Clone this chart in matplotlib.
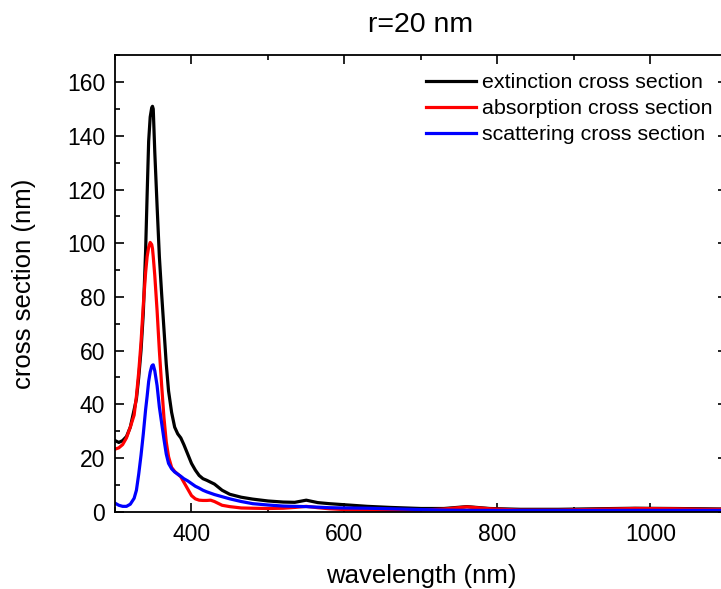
import matplotlib
matplotlib.use("Agg")
import matplotlib.pyplot as plt
from matplotlib.ticker import MultipleLocator

plt.rcParams['font.family'] = ['Liberation Sans', 'DejaVu Sans']

# wavelength grid (nm)
wavelength = [300, 305, 310, 315, 320, 325, 328, 331, 334, 337, 340, 342, 344,
              346, 348, 349, 350, 352, 355, 358, 361, 364, 367, 370, 374, 378,
              382, 386, 390, 395, 400, 405, 410, 415, 420, 425, 430, 440, 450,
              465, 480, 500, 520, 535, 550, 565, 580, 600, 630, 660, 700, 730,
              760, 790, 830, 880, 930, 980, 1030, 1070, 1100]

extinction = [26.5, 25.8, 26.5, 28, 31.5, 38, 42, 50, 60, 74, 97, 118, 138,
              147, 150.5, 151, 150, 134, 114, 95, 81, 68, 55, 45, 37, 31.5,
              29, 27.5, 25, 21.5, 18, 15.5, 13.5, 12.3, 11.7, 11, 10.3, 8, 6.5,
              5.4, 4.7, 4.0, 3.6, 3.5, 4.3, 3.4, 3.0, 2.6, 2.0, 1.6, 1.2, 1.2,
              1.9, 1.2, 0.9, 0.9, 1.1, 1.3, 1.2, 1.1, 1.0]

absorption = [23.3, 23.8, 25, 27.5, 31.5, 36, 43, 52, 63, 77, 89, 95, 98.5,
              100.3, 99.5, 98, 95, 88, 75, 60, 47, 35, 26, 20.5, 16.5, 15,
              14, 13, 11, 8.5, 6, 4.8, 4.3, 4.2, 4.2, 4.3, 3.8, 2.4, 1.9,
              1.4, 1.3, 1.2, 1.3, 1.6, 2.0, 1.5, 1.1, 0.8, 0.6, 0.5, 0.6, 1.0,
              1.8, 1.1, 0.6, 0.6, 0.9, 1.2, 1.1, 0.9, 0.9]

scattering = [3.2, 2.4, 2.0, 2.0, 2.8, 5, 8, 14, 21, 29, 38, 43, 48.5,
              52, 54.2, 54.6, 54.7, 52.5, 47, 39, 33, 27, 21.5, 18, 16, 14.8,
              14, 13.2, 12.3, 11.5, 10.5, 9.5, 8.8, 8, 7.4, 6.9, 6.4, 5.6, 4.8,
              3.8, 3.0, 2.5, 2.1, 2.0, 1.9, 1.7, 1.5, 1.4, 1.3, 1.1, 0.8, 0.6,
              0.5, 0.5, 0.5, 0.5, 0.5, 0.5, 0.5, 0.5, 0.5]

fig = plt.figure(figsize=(7.21, 5.89), dpi=100)
ax = fig.add_axes([0.1595, 0.1312, 0.8488, 0.7749])

lw = 2.3
ax.plot(wavelength, extinction, color='black', lw=lw, label='extinction cross section')
ax.plot(wavelength, absorption, color='red', lw=lw, label='absorption cross section')
ax.plot(wavelength, scattering, color='blue', lw=lw, label='scattering cross section')

ax.set_xlim(300, 1100)
ax.set_ylim(0, 170)
ax.xaxis.set_major_locator(MultipleLocator(200))
ax.xaxis.set_minor_locator(MultipleLocator(100))
ax.yaxis.set_major_locator(MultipleLocator(20))
ax.yaxis.set_minor_locator(MultipleLocator(10))
ax.tick_params(which='both', direction='in', top=True, right=True, width=1.2,
               labelsize=16.5)
ax.tick_params(which='major', length=6.5)
ax.tick_params(which='minor', length=3.6)
ax.tick_params(axis='x', pad=8)
ax.tick_params(axis='y', pad=7)
for s in ax.spines.values():
    s.set_linewidth(1.3)

ax.set_title('r=20 nm', fontsize=20.5, pad=17)
ax.set_xlabel('wavelength (nm)', fontsize=18.5, labelpad=13)
ax.set_ylabel('cross section (nm)', fontsize=18.5, labelpad=22)

ax.legend(loc='upper right', bbox_to_anchor=(1.0, 0.89), bbox_transform=fig.transFigure,
          frameon=False, fontsize=15.4, handlelength=2.3, handletextpad=0.3,
          labelspacing=0.33, borderaxespad=0)

fig.savefig('out.png', dpi=100)
